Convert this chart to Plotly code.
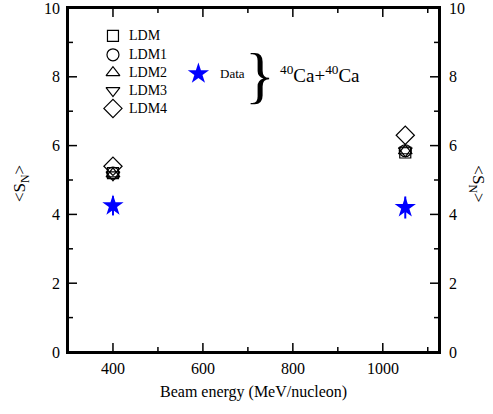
import plotly.graph_objects as go

energies = [400, 1050]
ldm = [5.2, 5.8]
ldm1 = [5.2, 5.85]
ldm2 = [5.18, 5.85]
ldm3 = [5.15, 5.85]
ldm4 = [5.4, 6.3]
data_vals = [4.25, 4.2]
data_err = [0.28, 0.32]

x_ticks = [400, 600, 800, 1000]
x_minor = [500, 700, 900, 1100]
y_ticks = [0, 2, 4, 6, 8, 10]
y_minor = [1, 3, 5, 7, 9]

legend_names = ["LDM", "LDM1", "LDM2", "LDM3", "LDM4"]
legend_symbols = ["square-open", "circle-open", "triangle-up-open", "triangle-down-open", "diamond-open"]
legend_y = [9.19, 8.64, 8.12, 7.6, 7.08]
legend_x = 400
data_legend_x = 590
data_legend_y = 8.09

X_RANGE = [300, 1125]
Y_RANGE = [0, 10]
FONT = "Liberation Serif"
fig = go.Figure()

# frame and inside ticks as line traces, built from the axis ranges and tick lists
x_px = 371 / (X_RANGE[1] - X_RANGE[0])
y_px = 346 / (Y_RANGE[1] - Y_RANGE[0])
fx = [X_RANGE[0], X_RANGE[1], X_RANGE[1], X_RANGE[0], X_RANGE[0]]
fy = [Y_RANGE[0], Y_RANGE[0], Y_RANGE[1], Y_RANGE[1], Y_RANGE[0]]
fig.add_trace(go.Scatter(x=fx, y=fy, mode="lines", line=dict(color="black", width=2),
                         showlegend=False, hoverinfo="skip", cliponaxis=False))
tx, ty = [], []
for vals, ln in ((x_ticks, 9), (x_minor, 5)):
    d = ln / y_px
    for v in vals:
        tx += [v, v, None, v, v, None]
        ty += [Y_RANGE[0], Y_RANGE[0] + d, None, Y_RANGE[1], Y_RANGE[1] - d, None]
for vals, ln in ((y_ticks[1:-1], 9), (y_minor, 5)):
    d = ln / x_px
    for v in vals:
        tx += [X_RANGE[0], X_RANGE[0] + d, None, X_RANGE[1], X_RANGE[1] - d, None]
        ty += [v, v, None, v, v, None]
fig.add_trace(go.Scatter(x=tx, y=ty, mode="lines", line=dict(color="black", width=1.5),
                         showlegend=False, hoverinfo="skip", cliponaxis=False))

series = [ldm, ldm1, ldm2, ldm3, ldm4]
sizes = [11, 12, 12, 12, 14]
for vals, sym, sz in zip(series, legend_symbols, sizes):
    fig.add_trace(go.Scatter(x=energies, y=vals, mode="markers",
                             marker=dict(symbol=sym, size=sz, color="black", line=dict(width=1.2, color="black")),
                             showlegend=False, hoverinfo="skip"))

# error bars as line segments
ex, ey = [], []
for e, v, err in zip(energies, data_vals, data_err):
    ex += [e, e, None]
    ey += [v - err, v + err, None]
fig.add_trace(go.Scatter(x=ex, y=ey, mode="lines", line=dict(color="blue", width=2),
                         showlegend=False, hoverinfo="skip"))
fig.add_trace(go.Scatter(x=energies, y=data_vals, mode="markers",
                         marker=dict(symbol="star", size=16, color="blue", line=dict(width=0)),
                         showlegend=False, hoverinfo="skip"))

# custom legend
for name, sym, y, sz in zip(legend_names, legend_symbols, legend_y, sizes):
    fig.add_trace(go.Scatter(x=[legend_x], y=[y], mode="markers",
                             marker=dict(symbol=sym, size=sz, color="black", line=dict(width=1.2, color="black")),
                             showlegend=False, hoverinfo="skip"))
    fig.add_annotation(x=legend_x, y=y, xref="x", yref="y", text=name, showarrow=False,
                       xanchor="left", xshift=14, font=dict(family=FONT, size=14, color="black"))

fig.add_trace(go.Scatter(x=[data_legend_x], y=[data_legend_y], mode="markers",
                         marker=dict(symbol="star", size=16, color="blue", line=dict(width=0)),
                         showlegend=False, hoverinfo="skip"))
fig.add_annotation(x=data_legend_x, y=data_legend_y, xref="x", yref="y", text="Data", showarrow=False,
                   xanchor="left", xshift=20, font=dict(family=FONT, size=13, color="black"))
fig.add_annotation(x=0.518, y=0.91, xref="paper", yref="paper", text="}", showarrow=False,
                   font=dict(family=FONT, size=62, color="black"))
fig.add_annotation(x=0.565, y=0.85, xref="paper", yref="paper",
                   text="<sup>40</sup>Ca+<sup>40</sup>Ca", showarrow=False,
                   xanchor="left", font=dict(family=FONT, size=19, color="black"))

for v in y_ticks:
    fig.add_annotation(x=1, y=v, xref="paper", yref="y", text=str(v), showarrow=False,
                       xanchor="left", xshift=8, font=dict(family=FONT, size=16, color="black"))
    fig.add_annotation(x=0, y=v, xref="paper", yref="y", text=str(v), showarrow=False,
                       xanchor="right", xshift=-6, font=dict(family=FONT, size=16, color="black"))
for v in x_ticks:
    fig.add_annotation(x=v, y=0, xref="x", yref="paper", text=str(v), showarrow=False,
                       yanchor="top", yshift=-6, font=dict(family=FONT, size=16, color="black"))

fig.update_layout(
    width=493, height=414,
    margin=dict(l=68, r=54, t=6, b=62),
    plot_bgcolor="white", paper_bgcolor="white",
    font=dict(family=FONT, color="black", size=16),
    xaxis=dict(range=X_RANGE, tickvals=x_ticks, showline=True, mirror=True,
               linecolor="black", linewidth=2, ticks="",
               showgrid=False, zeroline=False, showticklabels=False),
    yaxis=dict(range=Y_RANGE, tickvals=y_ticks, showline=True, mirror=True,
               linecolor="black", linewidth=2, ticks="",
               showgrid=False, zeroline=False, showticklabels=False),
    showlegend=False,
)

fig.add_annotation(x=0.5, y=0, xref="paper", yref="paper", text="Beam energy (MeV/nucleon)",
                   showarrow=False, yanchor="top", yshift=-29,
                   font=dict(family=FONT, size=16, color="black"))
fig.add_annotation(x=-0.16, y=0.49, xref="paper", yref="paper", text="&lt;S<sub>N</sub>&gt;",
                   textangle=-90, showarrow=False, font=dict(family=FONT, size=17, color="black"))
fig.add_annotation(x=1.135, y=0.49, xref="paper", yref="paper", text="&lt;S<sub>N</sub>&gt;",
                   textangle=90, showarrow=False, font=dict(family=FONT, size=17, color="black"))

post = "document.body.style.margin='0';"
fig.write_html("out.html", config={"displayModeBar": False}, post_script=post)
